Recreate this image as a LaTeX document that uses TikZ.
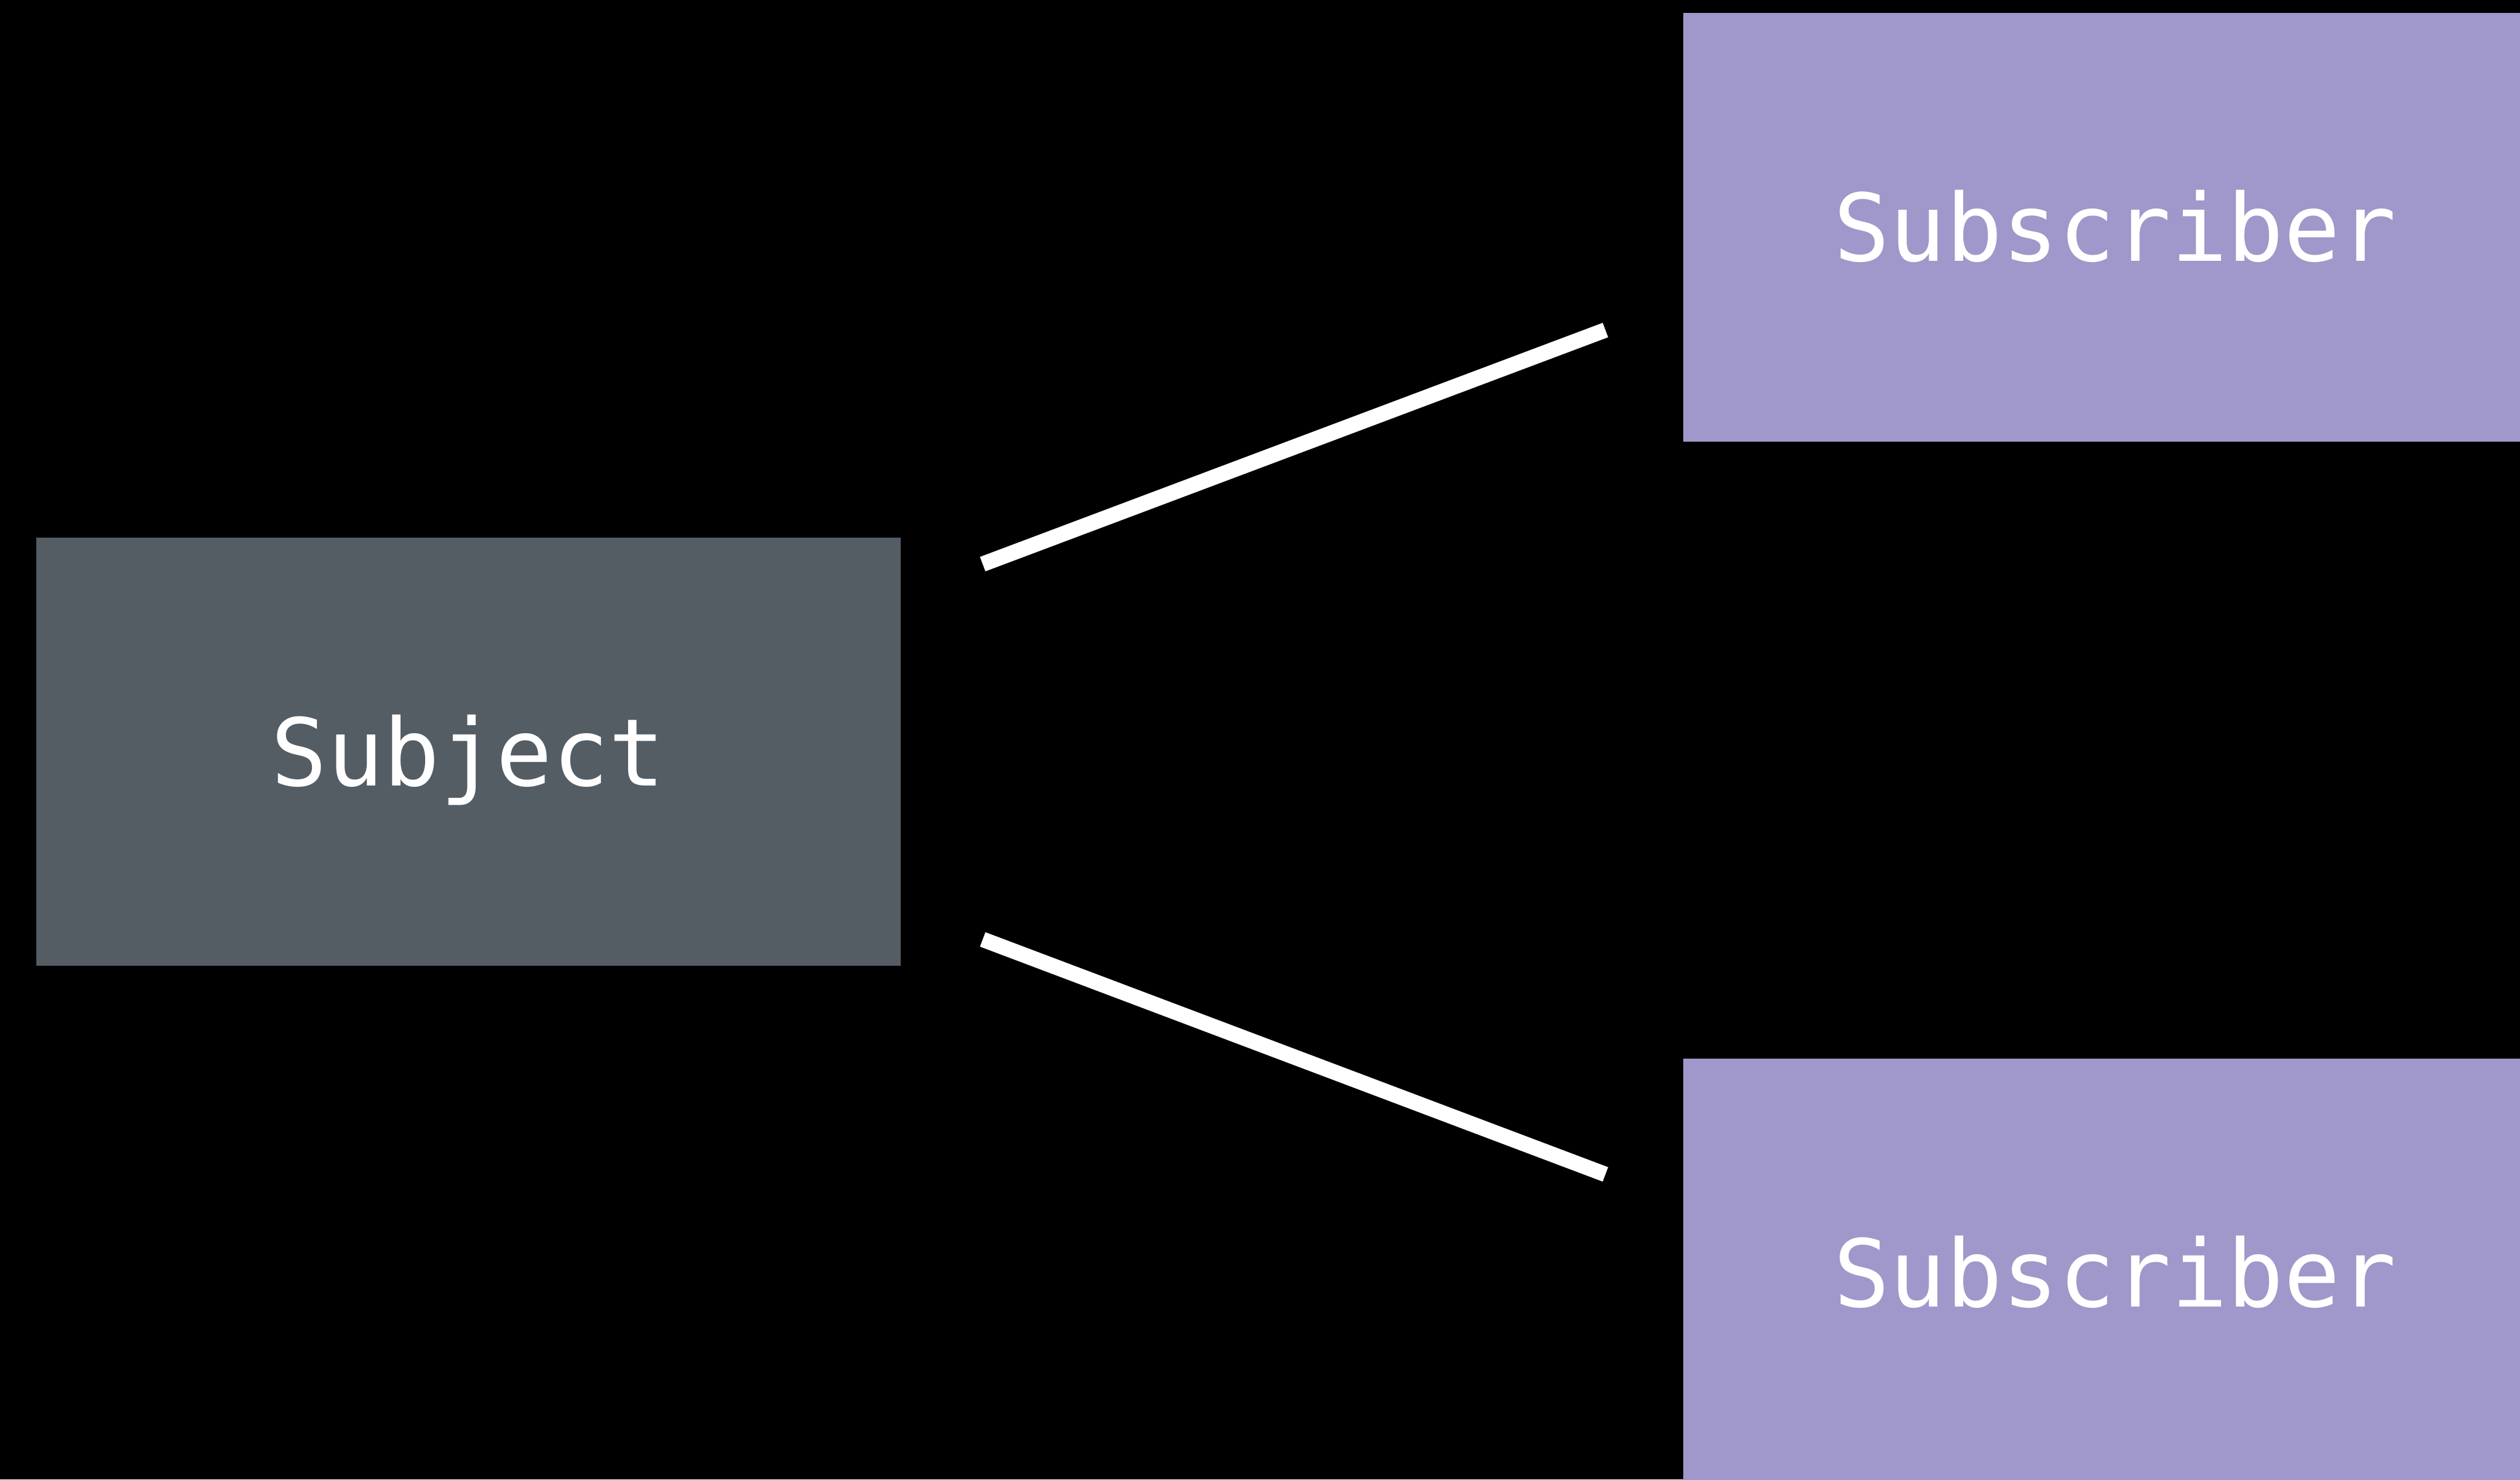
\documentclass[tikz,border=0pt]{standalone}
\usepackage{fontspec}
\setmonofont{DejaVu Sans Mono}
\usetikzlibrary{positioning, calc}
\definecolor{subjgray}{RGB}{84,92,100}
\definecolor{subpurple}{RGB}{160,152,202}

\begin{document}
\begin{tikzpicture}[
        box/.style={rectangle, fill=#1, minimum width=14.78cm, minimum height=7.33cm, inner sep=0pt, text=white, font=\ttfamily\fontsize{45.5}{50}\selectfont, text height=33pt, text depth=0pt},
        link/.style={white, line width=7.5pt}
    ]
        % Canvas
        \clip (0,0) rectangle (43.10,25.31);
        \fill[black] (0,0) rectangle (43.10,25.31);

        % Subject and its subscribers
        \node[box=subjgray] (subj) at (8.01,12.45) {Subject};
        \node[box=subpurple, above right=1.63cm and 13.37cm of subj] (sub1) {Subscriber};
        \node[box=subpurple, below right=1.57cm and 13.37cm of subj] (sub2) {Subscriber};

        % Links
        \draw[link] ($(subj.east)+(1.40,3.21)$) -- ($(sub1.west)+(-1.32,-1.76)$);
        \draw[link] ($(subj.east)+(1.40,-3.21)$) -- ($(sub2.west)+(-1.32,1.685)$);
    \end{tikzpicture}
\end{document}
